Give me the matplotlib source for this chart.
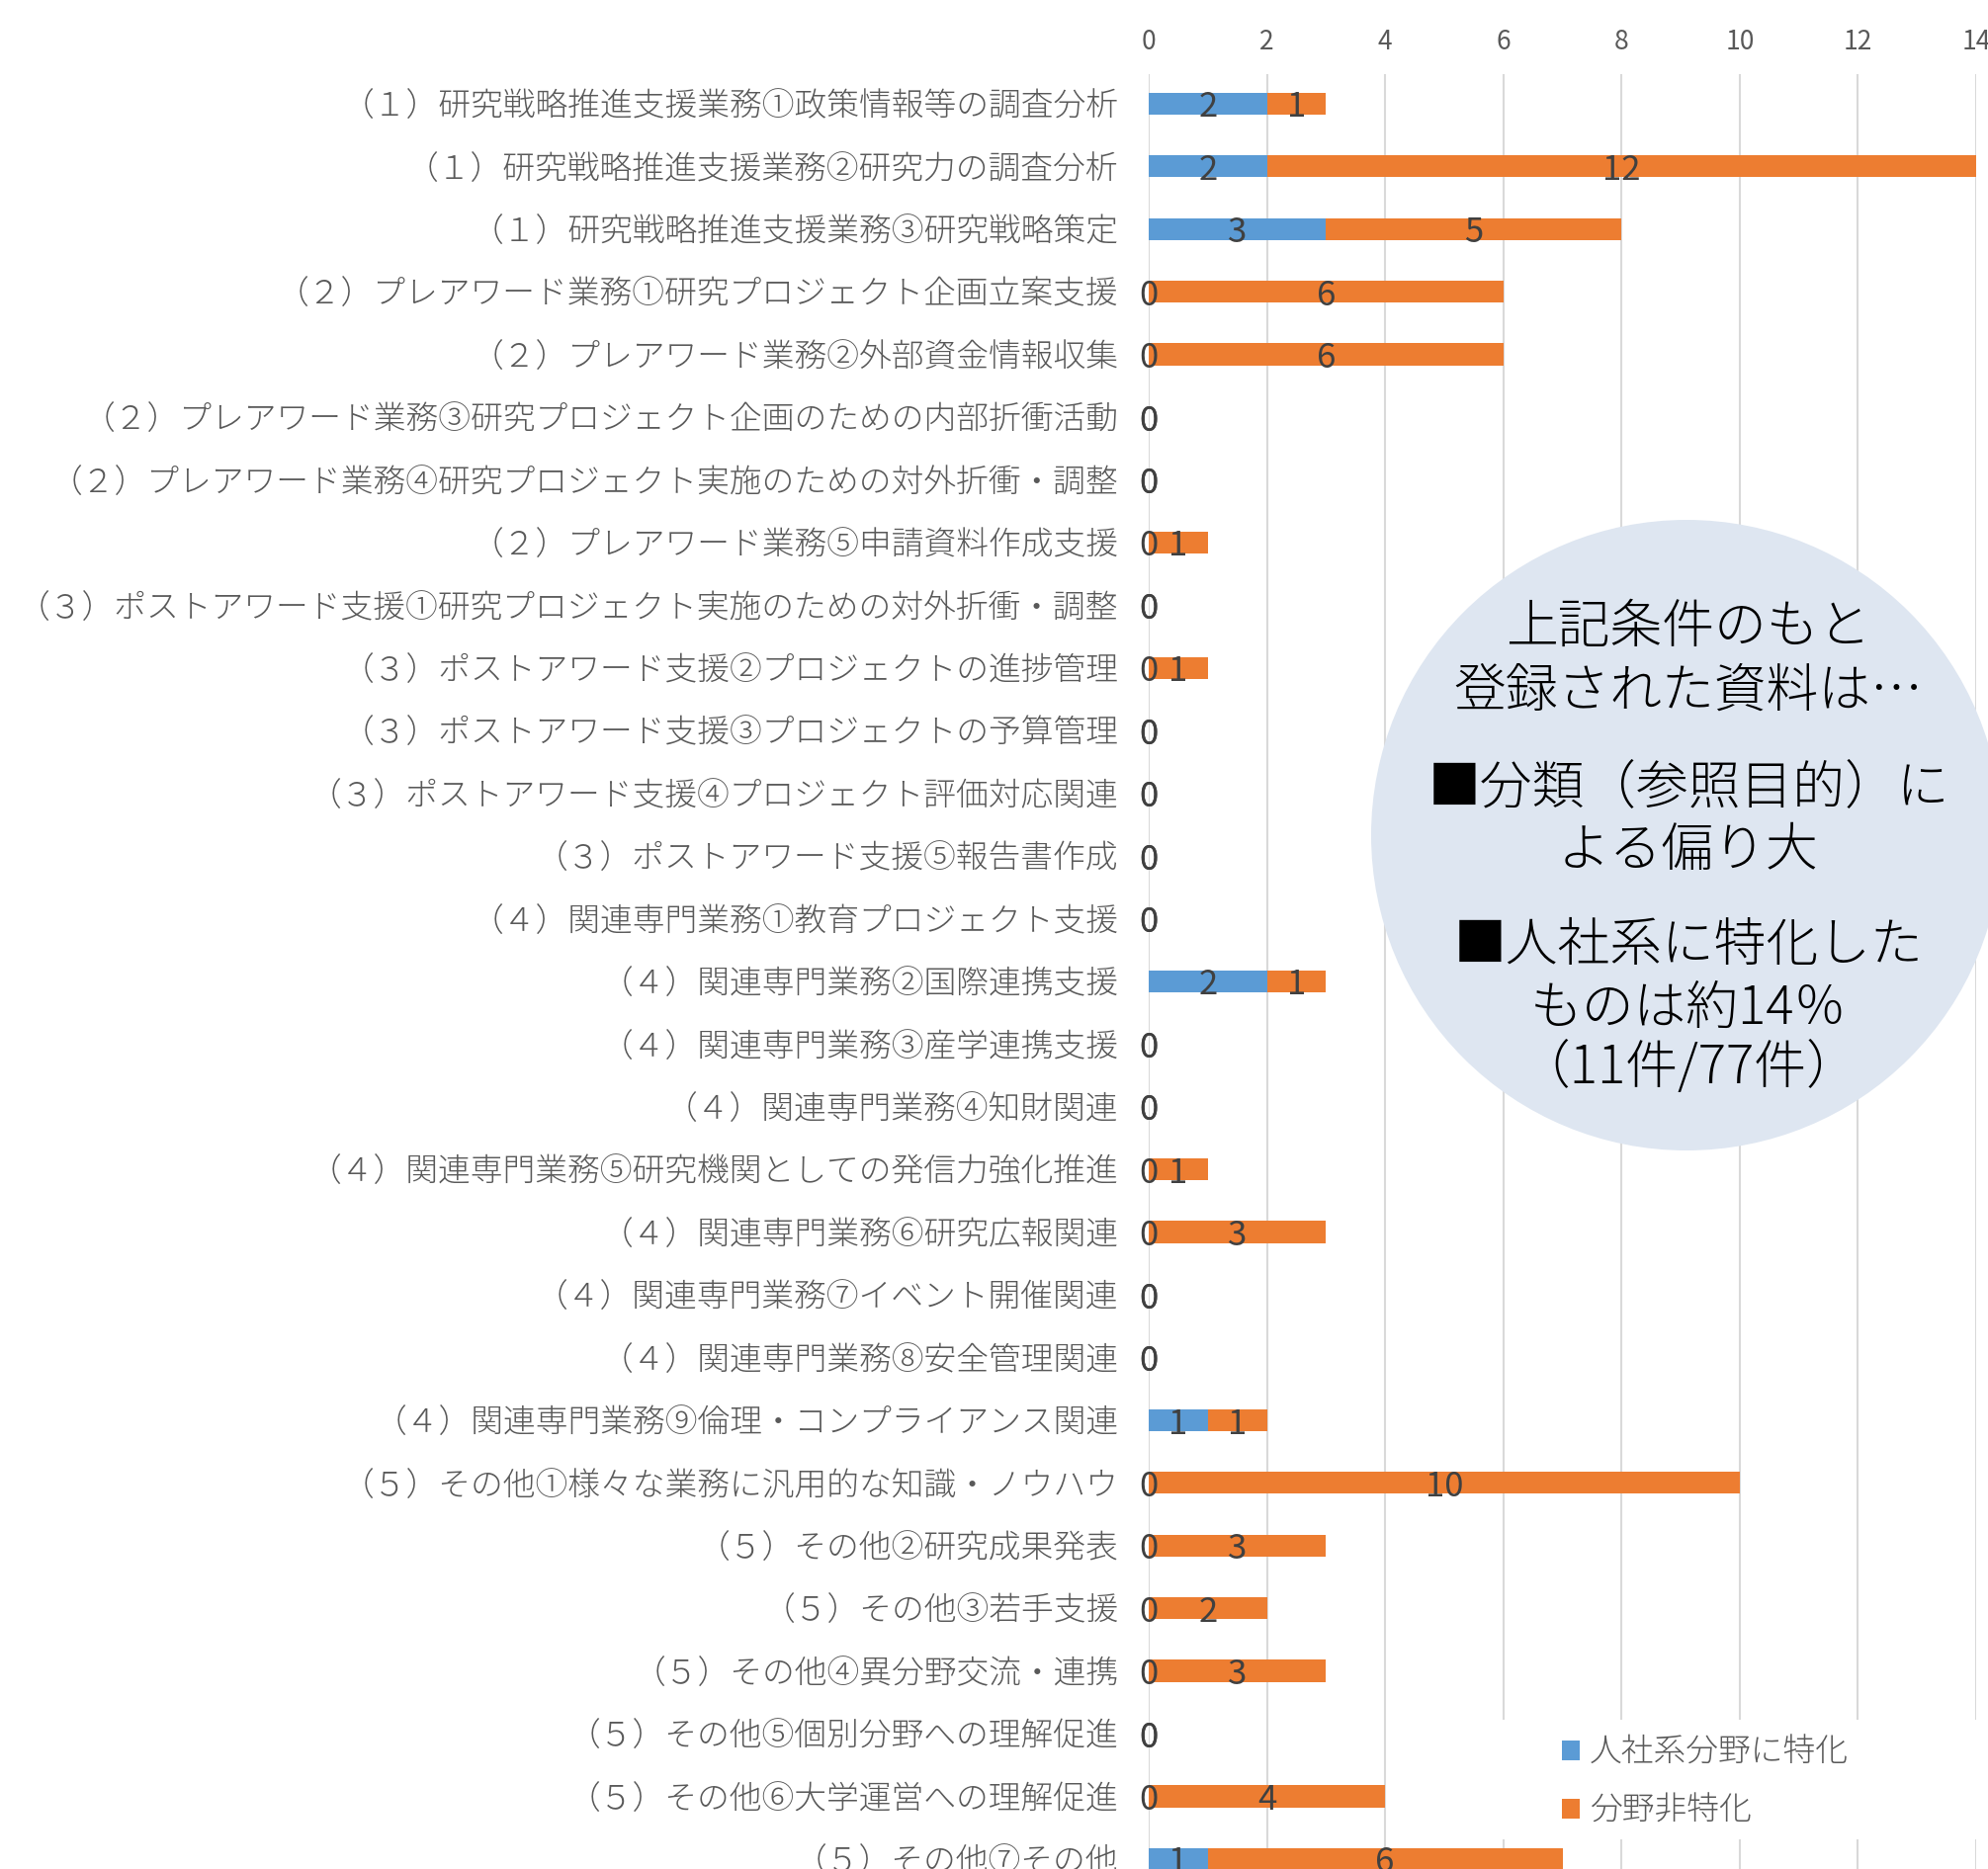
import matplotlib
matplotlib.use("Agg")
import matplotlib.pyplot as plt
from matplotlib.patches import Circle, Rectangle

plt.rcParams['font.family'] = ['Noto Sans CJK JP', 'DejaVu Sans']

categories = [
    "（１）研究戦略推進支援業務①政策情報等の調査分析",
    "（１）研究戦略推進支援業務②研究力の調査分析",
    "（１）研究戦略推進支援業務③研究戦略策定",
    "（２）プレアワード業務①研究プロジェクト企画立案支援",
    "（２）プレアワード業務②外部資金情報収集",
    "（２）プレアワード業務③研究プロジェクト企画のための内部折衝活動",
    "（２）プレアワード業務④研究プロジェクト実施のための対外折衝・調整",
    "（２）プレアワード業務⑤申請資料作成支援",
    "（３）ポストアワード支援①研究プロジェクト実施のための対外折衝・調整",
    "（３）ポストアワード支援②プロジェクトの進捗管理",
    "（３）ポストアワード支援③プロジェクトの予算管理",
    "（３）ポストアワード支援④プロジェクト評価対応関連",
    "（３）ポストアワード支援⑤報告書作成",
    "（４）関連専門業務①教育プロジェクト支援",
    "（４）関連専門業務②国際連携支援",
    "（４）関連専門業務③産学連携支援",
    "（４）関連専門業務④知財関連",
    "（４）関連専門業務⑤研究機関としての発信力強化推進",
    "（４）関連専門業務⑥研究広報関連",
    "（４）関連専門業務⑦イベント開催関連",
    "（４）関連専門業務⑧安全管理関連",
    "（４）関連専門業務⑨倫理・コンプライアンス関連",
    "（５）その他①様々な業務に汎用的な知識・ノウハウ",
    "（５）その他②研究成果発表",
    "（５）その他③若手支援",
    "（５）その他④異分野交流・連携",
    "（５）その他⑤個別分野への理解促進",
    "（５）その他⑥大学運営への理解促進",
    "（５）その他⑦その他",
]
humsoc = [2, 2, 3, 0, 0, 0, 0, 0, 0, 0, 0, 0, 0, 0, 2, 0, 0, 0, 0, 0, 0, 1, 0, 0, 0, 0, 0, 0, 1]
general = [1, 12, 5, 6, 6, 0, 0, 1, 0, 1, 0, 0, 0, 0, 1, 0, 0, 1, 3, 0, 0, 1, 10, 3, 2, 3, 0, 4, 6]
series_names = ["人社系分野に特化", "分野非特化"]
xticks = [0, 2, 4, 6, 8, 10, 12, 14]

note_lines = [
    "上記条件のもと",
    "登録された資料は…",
    "■分類（参照目的）に",
    "よる偏り大",
    "■人社系に特化した",
    "ものは約14％",
    "（11件/77件）",
]
note_y = [635, 700, 797, 861, 957, 1021, 1081]

W, H = 2011, 1891
fig = plt.figure(figsize=(W / 100, H / 100), dpi=100)
fig.patch.set_facecolor("white")

top = 75
ax = fig.add_axes([1162 / W, 0, (1999 - 1162) / W, (H - top) / H])

rows = list(range(len(categories)))
b1 = ax.barh(rows, humsoc, height=0.35, color="#5B9BD5", label=series_names[0], zorder=2)
b2 = ax.barh(rows, general, left=humsoc, height=0.35, color="#ED7D31", label=series_names[1], zorder=2)
for c in (b1, b2):
    lbls = ax.bar_label(c, label_type="center", fontsize=25, color="#404040")
    for t in lbls:
        t.xyann = (0, -3)   # sit a little low, like the original

ax.set_xlim(0, 14)
ax.set_ylim(28.16, -0.47)
ax.set_xticks(xticks)
ax.xaxis.tick_top()
ax.set_yticks(rows, categories)
ax.tick_params(axis="y", length=0, pad=22, labelsize=23.6, labelcolor="#595959")
ax.tick_params(axis="x", length=0, pad=14, labelsize=19, labelcolor="#595959")
for t in ax.get_yticklabels():
    t.set_fontweight("light")
ax.grid(axis="x", color="#d9d9d9", linewidth=1.5)
ax.set_axisbelow(True)
for s in ax.spines.values():
    s.set_visible(False)

# white box behind the legend hides the gridlines
ax.add_patch(Rectangle((5.7, 25.78), 8.8, 1.9, facecolor="white", edgecolor="none",
                       zorder=1, clip_on=False))
ax.legend(loc="center left", bbox_to_anchor=(1580 / W, 1 - 1803 / H),
          bbox_transform=fig.transFigure, frameon=False,
          prop={"size": 23.6, "weight": "light"},
          labelcolor="#595959", handlelength=0.56, handleheight=0.56,
          handletextpad=0.3, labelspacing=0.75, borderpad=0, borderaxespad=0)

# overlay in pixel coordinates for the circled note
ov = fig.add_axes([0, 0, 1, 1])
ov.set_xlim(0, W)
ov.set_ylim(H, 0)
ov.axis("off")
ov.patch.set_alpha(0)
ov.add_patch(Circle((1706, 845), 319, facecolor="#dee6f1", edgecolor="none"))
for line, y in zip(note_lines, note_y):
    ov.text(1708, y, line, ha="center", va="center", fontsize=38,
            fontweight="light", color="black")

fig.savefig("out.png", dpi=100)
